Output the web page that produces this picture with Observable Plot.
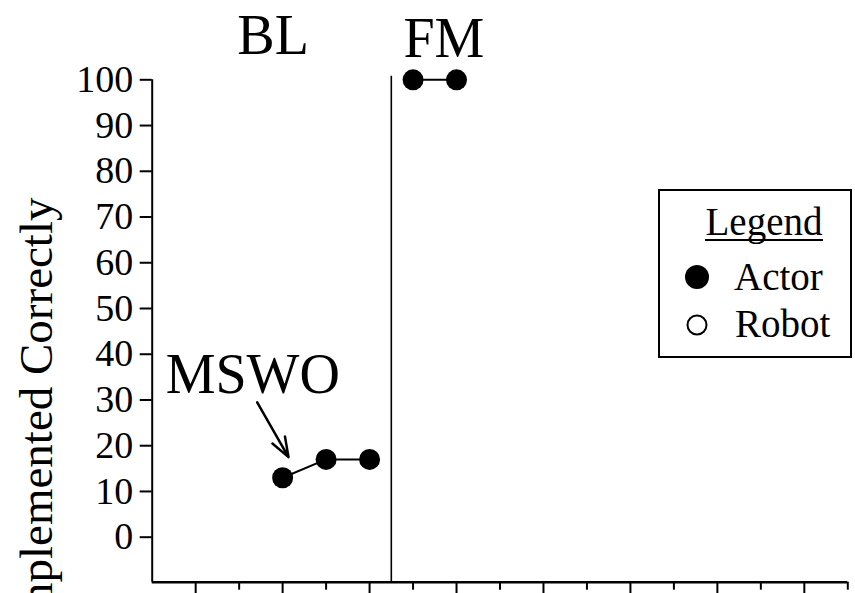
<!DOCTYPE html>
<html>
<head>
<meta charset="utf-8">
<script src="https://cdn.jsdelivr.net/npm/d3@7"></script>
<script src="https://cdn.jsdelivr.net/npm/@observablehq/plot@0.6"></script>
<style>
  html, body { margin: 0; padding: 0; background: #fff; }
  #wrap { position: relative; width: 855px; height: 593px; overflow: hidden; font-family: "Liberation Serif", "Times New Roman", "DejaVu Serif", serif; }
  #wrap svg text { font-family: "Liberation Serif", "Times New Roman", "DejaVu Serif", serif !important; }
  #legend { position: absolute; left: 658px; top: 189px; }
</style>
</head>
<body>
<div id="wrap"></div>
<script>
// ---- data ----
const blSessions = [3, 4, 5];
const blValues = [13, 17, 17];
const fmSessions = [6, 7];
const fmValues = [100, 100];
const yTicks = [0, 10, 20, 30, 40, 50, 60, 70, 80, 90, 100];
const xMajorTicks = [1, 3, 5, 7, 9, 11, 13, 15];
const xMinorTicks = [2, 4, 6, 8, 10, 12, 14, 16];
const phaseNames = ["BL", "FM"];
const phaseLabelX = [2.78, 6.71];
const phaseLabelY = [105.6, 104.9];
const phaseChange = 5.5;
const annotationText = ["MSWO"];
const yTitle = "Implemented Correctly";
const legendLabels = ["Actor", "Robot"];

const xDomain = [0, 16];
const yDomain = [-9.84, 100];

const rows = [
  ...blSessions.map((s, i) => ({session: s, value: blValues[i], phase: "BL"})),
  ...fmSessions.map((s, i) => ({session: s, value: fmValues[i], phase: "FM"}))
];
const phaseLabels = phaseNames.map((n, i) => ({name: n, x: phaseLabelX[i], y: phaseLabelY[i]}));

const serif = "'Liberation Serif', 'Times New Roman', 'DejaVu Serif', serif";

const chart = Plot.plot({
  width: 855,
  height: 593,
  marginLeft: 151.7,
  marginRight: 7.7,
  marginTop: 79.3,
  marginBottom: 11.3,
  style: {fontFamily: serif, fontSize: "38px", background: "white", color: "black", overflow: "visible"},
  x: {domain: xDomain},
  y: {domain: yDomain},
  marks: [
    Plot.axisY({ticks: yTicks, tickSize: 12, tickPadding: 7, strokeWidth: 2, fontSize: 38, label: null, tickFormat: d => String(d)}),
    Plot.axisX({ticks: xMajorTicks, tickSize: 14, strokeWidth: 2, fill: "none", label: null}),
    Plot.axisX({ticks: xMinorTicks, tickSize: 8, strokeWidth: 2, fill: "none", label: null}),
    Plot.ruleX([0], {y1: yDomain[0], y2: 100, stroke: "black", strokeWidth: 2}),
    Plot.ruleY([yDomain[0]], {x1: xDomain[0], x2: xDomain[1], stroke: "black", strokeWidth: 2.5}),
    Plot.ruleX([phaseChange], {y1: yDomain[0], y2: 100.8, stroke: "black", strokeWidth: 1.6}),
    Plot.line(rows, {x: "session", y: "value", z: "phase", stroke: "black", strokeWidth: 2}),
    Plot.dot(rows, {x: "session", y: "value", r: 10.5, fill: "black", stroke: "none"}),
    Plot.text(phaseLabels, {x: "x", y: "y", text: "name", fontSize: 56, lineAnchor: "bottom", textAnchor: "middle", fill: "black"}),
    Plot.text(annotationText, {x: 0.31, y: 31.6, text: d => d, fontSize: 56, lineAnchor: "bottom", textAnchor: "start", fill: "black"}),
    Plot.arrow([{x1: 2.415, y1: 29.5, x2: 3.135, y2: 17.5}], {x1: "x1", y1: "y1", x2: "x2", y2: "y2", stroke: "black", strokeWidth: 2.5, headLength: 17, headAngle: 40}),
    Plot.text([yTitle], {frameAnchor: "top-left", dx: 51 - 151.7, dy: 197 - 79.3, rotate: -90, textAnchor: "end", lineAnchor: "bottom", fontSize: 47, fill: "black"})
  ]
});
document.getElementById("wrap").appendChild(chart);

// ---- legend (overlay box) ----
const ns = "http://www.w3.org/2000/svg";
const lg = document.createElementNS(ns, "svg");
lg.setAttribute("id", "legend");
lg.setAttribute("width", 194);
lg.setAttribute("height", 169);
lg.innerHTML = `
  <rect x="1" y="1" width="192" height="167" fill="white" stroke="black" stroke-width="2"/>
  <text x="106" y="46" font-size="39" text-anchor="middle" fill="black">Legend</text>
  <line x1="47" x2="165" y1="51" y2="51" stroke="black" stroke-width="2"/>
  <circle cx="39" cy="88" r="12" fill="black"/>
  <text x="76" y="101" font-size="39" fill="black">${legendLabels[0]}</text>
  <circle cx="39" cy="136" r="9.5" fill="white" stroke="black" stroke-width="2"/>
  <text x="77" y="148" font-size="39" fill="black">${legendLabels[1]}</text>
`;
document.getElementById("wrap").appendChild(lg);
</script>
</body>
</html>
